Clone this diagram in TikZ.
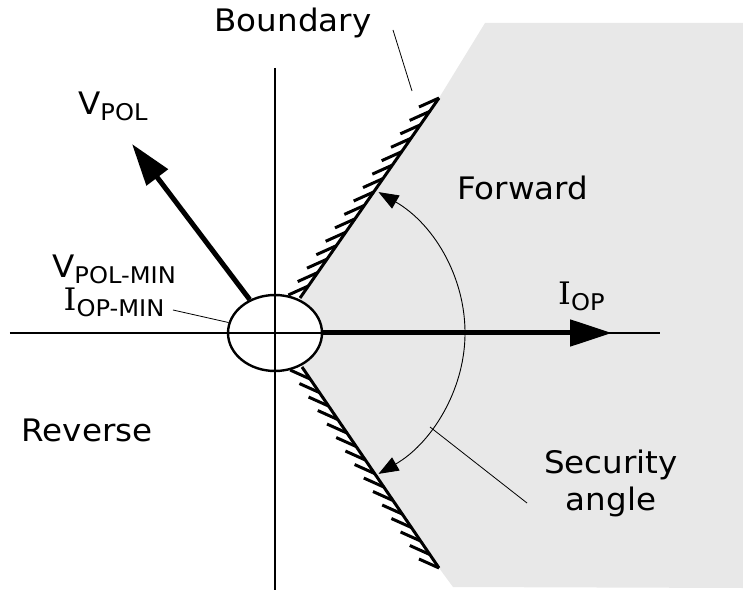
\documentclass[tikz,border=0pt]{standalone}
\usepackage{fontspec}
\setmainfont{DejaVu Sans}
\newfontfamily\serifI{DejaVu Serif}
\usetikzlibrary{arrows.meta,calc,shapes.geometric}
\definecolor{fwdclr}{RGB}{232,232,232}
\tikzset{
  lbl/.style={font=\fontsize{31}{37}\selectfont,inner sep=0pt,xscale=1.05},
  vec/.style={line width=5pt,-{Triangle[length=42pt,width=26pt]}},
  axisline/.style={line width=1.5pt},
  bound/.style={line width=3pt},
  hatch/.style={line width=3pt},
  leader/.style={line width=0.8pt},
  minzone/.style={ellipse,draw,line width=2.4pt,fill=white,
                  minimum width=94pt,minimum height=76pt,inner sep=0pt},
  swing/.style={line width=0.9pt,
                {Triangle[length=20pt,width=15pt]}-{Triangle[length=20pt,width=15pt]}},
}
\newcommand{\lowsub}[1]{\raisebox{-0.18em}{\fontsize{23}{23}\selectfont #1}}
\newcommand{\capI}{{\serifI I}}

\begin{document}
\begin{tikzpicture}[x=1pt,y=1pt]
\useasboundingbox (-275,-266) rectangle (468,333);
% forward zone
\fill[fwdclr] (0,0) -- (25,35) -- (164,235) -- (210,310) -- (468,310)
  -- (468,-255) -- (178,-254) -- (164,-235) -- (27,-34) -- cycle;
\node[minzone] (mn) at (0,0) {};
% axes
\coordinate (xl) at (-265,0); \coordinate (xr) at (385,0);
\coordinate (yt) at (0,265);  \coordinate (yb) at (0,-257);
\draw[axisline] (xl) -- (xr);
\draw[axisline] (yt) -- (yb);
% boundaries with hatching
\coordinate (ua) at (25,35);  \coordinate (ub) at (164,235);
\coordinate (la) at (27,-34); \coordinate (lb) at (164,-235);
\draw[bound] (ua) -- (ub);
\draw[bound] (la) -- (lb);
\foreach \i in {0,...,14} {
  \pgfmathsetmacro\t{0.06+0.94*\i/14}
  \draw[hatch] ($(ua)!\t!(ub)$) -- ++(-20,-9);
  \draw[hatch] ($(la)!\t!(lb)$) -- ++(-20,9);
}
% vectors
\coordinate (vpol) at (-143,189);
\coordinate (iop) at (337,0);
\draw[vec] (mn) -- (vpol);
\draw[vec] (mn) -- (iop);
% security angle
\draw[swing] (103.5,140.9) arc[start angle=57,end angle=-57,x radius=190,y radius=168];
\coordinate (arcpt) at (155,-94);
\coordinate (secend) at (252,-170);
\draw[leader] (arcpt) -- (secend);
% labels
\node[lbl,anchor=base west] (vlbl) at (-197,218) {V\lowsub{POL}};
\node[lbl,anchor=base west] (ilbl) at (283,28) {\capI\lowsub{OP}};
\node[lbl,anchor=base] (bnd) at (18,301) {Boundary};
\node[lbl,anchor=base west] (fwd) at (182,133) {Forward};
\node[lbl,anchor=base] (rev) at (-188,-108) {Reverse};
\node[lbl,font=\fontsize{31}{33}\selectfont,align=center,anchor=base] (minlbl)
  at (-161,22) {V\lowsub{POL-MIN}\\\capI\lowsub{OP-MIN}};
\node[lbl,font=\fontsize{31}{37}\selectfont,align=center] (sec)
  at (336,-150) {Security\\angle};
% leaders
\coordinate (bndstart) at (118,303); \coordinate (bndtip) at (137,242);
\draw[leader] (bndstart) -- (bndtip);
\coordinate (minstart) at (-102,23);
\draw[leader] (minstart) -- (mn);
\end{tikzpicture}
\end{document}
